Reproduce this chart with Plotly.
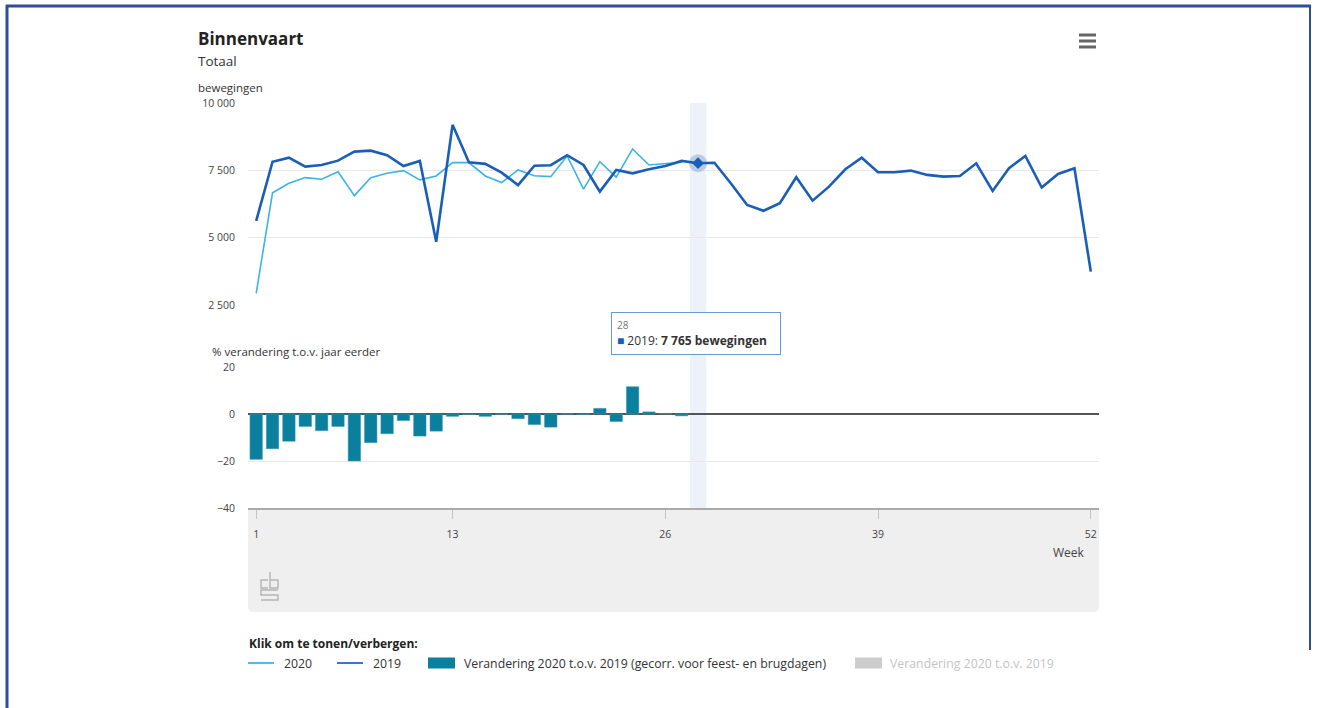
import plotly.graph_objects as go

W, H = 1317, 708

weeks = list(range(1, 53))
tick_weeks = [1, 13, 26, 39, 52]

v2019 = [5620, 7820, 7970, 7640, 7700, 7860, 8195, 8230, 8060, 7660,
         7850, 4850, 9190, 7800, 7740, 7415, 6950, 7670, 7690, 8060,
         7700, 6710, 7515, 7390, 7540, 7660, 7850, 7765, 7780, 7020,
         6215, 6000, 6280, 7245, 6375, 6895, 7540, 7970, 7430, 7430,
         7490, 7330, 7265, 7290, 7760, 6735, 7580, 8035, 6860, 7365,
         7580, 3740]

v2020 = [2935, 6670, 7020, 7230, 7170, 7450, 6560, 7230, 7390, 7490,
         7145, 7290, 7785, 7785, 7290, 7045, 7515, 7300, 7265, 8035,
         6800, 7820, 7245, 8295, 7700, 7740, 7800]

change_corr = [-19.3, -14.8, -11.6, -5.3, -7.1, -5.3, -20.0, -12.2, -8.4, -2.8,
               -9.4, -7.3, -1.0, -0.2, -1.0, -0.1, -2.0, -4.5, -5.6, 0.0,
               -0.2, 2.4, -3.2, 11.6, 0.9, 0.2, -0.8]

upper_ticks = [2500, 5000, 7500, 10000]
upper_ticktext = ["2 500", "5 000", "7 500", "10 000"]
lower_ticks = [-40, -20, 0, 20]

legend_names = ["2020", "2019",
                "Verandering 2020 t.o.v. 2019 (gecorr. voor feest- en brugdagen)",
                "Verandering 2020 t.o.v. 2019"]

hover_week = 28

C2019 = "#1a5eb8"
C2020 = "#3ab4e2"
CBAR = "#0a7f9e"
CHID = "#cccccc"
FONT = "Open Sans"


def px(x):
    return x / W


def py(y):
    return 1 - y / H


def fmt(v):
    return f"{v:,}".replace(",", " ")


fig = go.Figure()

fig.add_trace(go.Scatter(x=weeks[:len(v2020)], y=v2020, mode="lines", name=legend_names[0],
                         line=dict(color=C2020, width=1.6), xaxis="x", yaxis="y"))
fig.add_trace(go.Scatter(x=weeks, y=v2019, mode="lines", name=legend_names[1],
                         line=dict(color=C2019, width=2.6), xaxis="x", yaxis="y"))
hi = weeks.index(hover_week)
fig.add_trace(go.Scatter(x=[weeks[hi]], y=[v2019[hi]], mode="markers",
                         marker=dict(size=18, color="rgba(26,94,184,0.25)", symbol="circle"),
                         xaxis="x", yaxis="y"))
fig.add_trace(go.Scatter(x=[weeks[hi]], y=[v2019[hi]], mode="markers",
                         marker=dict(size=9, color=C2019, symbol="diamond"),
                         xaxis="x", yaxis="y"))
fig.add_trace(go.Bar(x=weeks[:len(change_corr)], y=change_corr, name=legend_names[2],
                     marker=dict(color=CBAR, line=dict(color="#3a9ab5", width=0.5)),
                     width=0.76, xaxis="x2", yaxis="y2"))

xdom = [px(248), px(1099)]

shapes = []
# highlight band
shapes.append(dict(type="rect", xref="x", yref="paper", x0=hover_week - 0.5, x1=hover_week + 0.5,
                   y0=py(508), y1=py(103), fillcolor="#edf2f9", line=dict(width=0), layer="below"))
# grey panel under x-axis with rounded bottom corners
x0, x1, y0, y1, r = 248, 1099, 508, 612, 6
path = (f"M {px(x0)},{py(y0)} L {px(x1)},{py(y0)} L {px(x1)},{py(y1 - r)} "
        f"Q {px(x1)},{py(y1)} {px(x1 - r)},{py(y1)} L {px(x0 + r)},{py(y1)} "
        f"Q {px(x0)},{py(y1)} {px(x0)},{py(y1 - r)} Z")
shapes.append(dict(type="path", xref="paper", yref="paper", path=path,
                   fillcolor="#efefef", line=dict(width=0), layer="below"))
# hamburger menu
for yy in (35, 41, 47):
    shapes.append(dict(type="line", xref="paper", yref="paper", x0=px(1079), x1=px(1096),
                       y0=py(yy), y1=py(yy), line=dict(color="#666666", width=3)))
# cbs logo (simple outline)
lg = dict(color="#b5b5b5", width=1.4)
shapes.append(dict(type="path", xref="paper", yref="paper", line=lg,
                   path=f"M {px(268)},{py(580)} L {px(261)},{py(580)} L {px(261)},{py(588)} L {px(268)},{py(588)}"))
shapes.append(dict(type="path", xref="paper", yref="paper", line=lg,
                   path=f"M {px(270)},{py(572)} L {px(270)},{py(588)} L {px(278)},{py(588)} L {px(278)},{py(580)} L {px(270)},{py(580)}"))
shapes.append(dict(type="path", xref="paper", yref="paper", line=lg,
                   path=(f"M {px(278)},{py(590)} L {px(261)},{py(590)} L {px(261)},{py(595)} "
                         f"L {px(278)},{py(595)} L {px(278)},{py(600)} L {px(261)},{py(600)}")))
# frame border
bc = "#2e4d9b"
shapes.append(dict(type="line", xref="paper", yref="paper", x0=px(7), x1=px(7), y0=py(5), y1=py(708),
                   line=dict(color=bc, width=3)))
shapes.append(dict(type="line", xref="paper", yref="paper", x0=px(6), x1=px(1311), y0=py(6), y1=py(6),
                   line=dict(color=bc, width=3)))
shapes.append(dict(type="line", xref="paper", yref="paper", x0=px(1310), x1=px(1310), y0=py(5), y1=py(650),
                   line=dict(color=bc, width=2)))

# manual legend symbols
LY = 663
shapes.append(dict(type="line", xref="paper", yref="paper", x0=px(248), x1=px(274), y0=py(LY), y1=py(LY),
                   line=dict(color="#4fbbe6", width=2)))
shapes.append(dict(type="line", xref="paper", yref="paper", x0=px(337), x1=px(363), y0=py(LY), y1=py(LY),
                   line=dict(color="#3a76cc", width=2)))
shapes.append(dict(type="rect", xref="paper", yref="paper", x0=px(428), x1=px(455), y0=py(LY - 5.5), y1=py(LY + 5.5),
                   fillcolor=CBAR, line=dict(width=0)))
shapes.append(dict(type="rect", xref="paper", yref="paper", x0=px(855), x1=px(882), y0=py(LY - 5.5), y1=py(LY + 5.5),
                   fillcolor=CHID, line=dict(width=0)))


def ann(text, x, y, size, color="#333", xanchor="left", **kw):
    return dict(text=text, x=px(x), y=py(y), xref="paper", yref="paper", xanchor=xanchor,
                yanchor="middle", showarrow=False, font=dict(size=size, color=color, family=FONT), **kw)


annotations = [
    ann("<b>Binnenvaart</b>", 196, 38, 17, "#222"),
    ann("Totaal", 196, 61, 13.5, "#333"),
    ann("bewegingen", 196, 88, 11.5, "#333"),
    ann("% verandering t.o.v. jaar eerder", 210, 351, 11.5, "#333"),
    ann("Week", 1087, 552, 12, "#444", xanchor="right"),
    ann("<b>Klik om te tonen/verbergen:</b>", 247, 643, 12, "#222"),
    ann(legend_names[0], 282, LY, 12.3, "#333"),
    ann(legend_names[1], 371, LY, 12.3, "#333"),
    ann(legend_names[2], 462, LY, 12.3, "#333"),
    ann(legend_names[3], 888, LY, 12.3, "#c4c4c4"),
    dict(text=(f"<span style='font-size:10px;color:#777'>{weeks[hi]}</span><br>"
               f"<span style='color:{C2019}'>■</span> 2019: <b>{fmt(v2019[hi])} bewegingen</b>"),
         x=px(611), y=py(312), xref="paper", yref="paper", xanchor="left", yanchor="top",
         align="left", showarrow=False, bgcolor="white", bordercolor="#6a9ad6", borderwidth=1,
         borderpad=5, width=158, font=dict(size=12, color="#333", family=FONT)),
]

fig.update_layout(
    template="none",
    width=W, height=H,
    margin=dict(l=0, r=0, t=0, b=0, pad=0, autoexpand=False),
    paper_bgcolor="white", plot_bgcolor="rgba(0,0,0,0)",
    font=dict(family=FONT, color="#444"),
    showlegend=False,
    barmode="overlay",
    xaxis=dict(domain=xdom, range=[0.5, 52.5], anchor="y", showticklabels=False, automargin=False,
               showgrid=False, zeroline=False, showline=False, ticks=""),
    yaxis=dict(domain=[py(305), py(103)], range=[2500, 10000], anchor="x", automargin=False,
               tickvals=upper_ticks, ticktext=upper_ticktext, gridcolor="#e8e8e8", gridwidth=1,
               zeroline=False, showline=False, ticks="", ticklabelstandoff=12,
               tickfont=dict(size=10.5, color="#444", family=FONT)),
    xaxis2=dict(domain=xdom, range=[0.5, 52.5], anchor="y2", tickvals=tick_weeks, automargin=False,
                ticks="outside", ticklen=9, tickcolor="#c4c4c4", tickwidth=1,
                showline=True, linecolor="#aaaaaa", linewidth=2, showgrid=False, zeroline=False,
                ticklabelstandoff=6, tickfont=dict(size=10.5, color="#444", family=FONT)),
    yaxis2=dict(domain=[py(508), py(367)], range=[-40, 20], anchor="x2", automargin=False,
                tickvals=lower_ticks, gridcolor="#e8e8e8", gridwidth=1, zeroline=True,
                zerolinecolor="#555555", zerolinewidth=1.8, showline=False, ticks="",
                ticklabelstandoff=12, tickfont=dict(size=10.5, color="#444", family=FONT)),
    shapes=shapes,
    annotations=annotations,
    hovermode=False,
)

fig.write_html("out.html", config={"displayModeBar": False, "staticPlot": False},
               post_script="document.body.style.margin='0px';document.body.style.overflow='hidden';")
